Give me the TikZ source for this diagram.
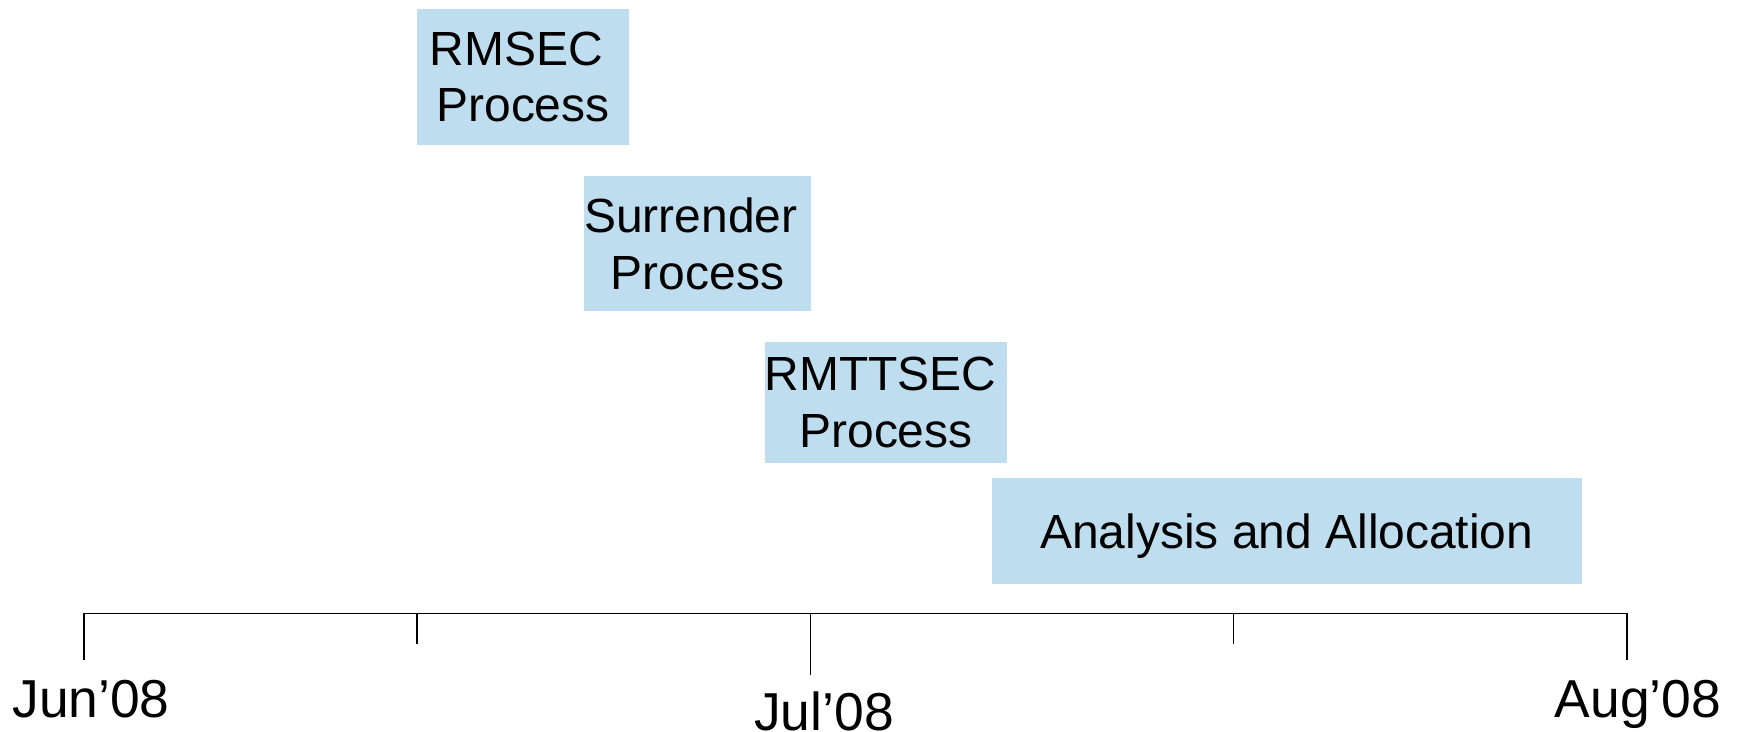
\documentclass[tikz,border=0pt]{standalone}
\usepackage{fontspec}
\setmainfont{Liberation Sans}
\usepackage{tikz}
\usetikzlibrary{positioning}
\definecolor{taskblue}{RGB}{190,221,238}
\newcommand{\tsp}{\hphantom{\ }}
\tikzset{task/.style={fill=taskblue,align=center,inner sep=0pt,font=\fontsize{27.3pt}{32.3pt}\selectfont},
month/.style={anchor=base,inner sep=0pt,font=\fontsize{30.4pt}{36pt}\selectfont},
axis/.style={line width=0.8pt}}

\begin{document}
\begin{tikzpicture}[x=0.02cm,y=-0.02cm]
\useasboundingbox (0,0) rectangle (1737,732);
% tasks
\node (rmsec) at (523,77) [task,minimum width=4.24cm,minimum height=2.72cm] {RMSEC\tsp\\Process};
\node (surr) at (697.5,243.5) [task,minimum width=4.54cm,minimum height=2.72cm] {Surrender\tsp\\Process};
\node (rmttsec) at (886,402.5) [task,text width=4.86cm,minimum height=2.42cm] {RMTTSEC\tsp\\Process};
\node (anal) at (1286.8,531) [task,text depth=0pt,minimum width=11.8cm,minimum height=2.12cm] {Analysis and Allocation};
% time axis
\foreach \t/\x/\y in {jun/84/660, q1/417/644, jul/810.5/675, q2/1233.5/644, aug/1627/660} {
\coordinate (\t) at (\x,613.5);
\draw[axis] (\t) -- (\x,\y);
}
\draw[axis] (jun) -- (aug);
\node (junl) at (91,717) [month] {Jun’08};
\node (jull) at (824,730) [month] {Jul’08};
\node (augl) at (1638,717) [month] {Aug’08};
\end{tikzpicture}
\end{document}
